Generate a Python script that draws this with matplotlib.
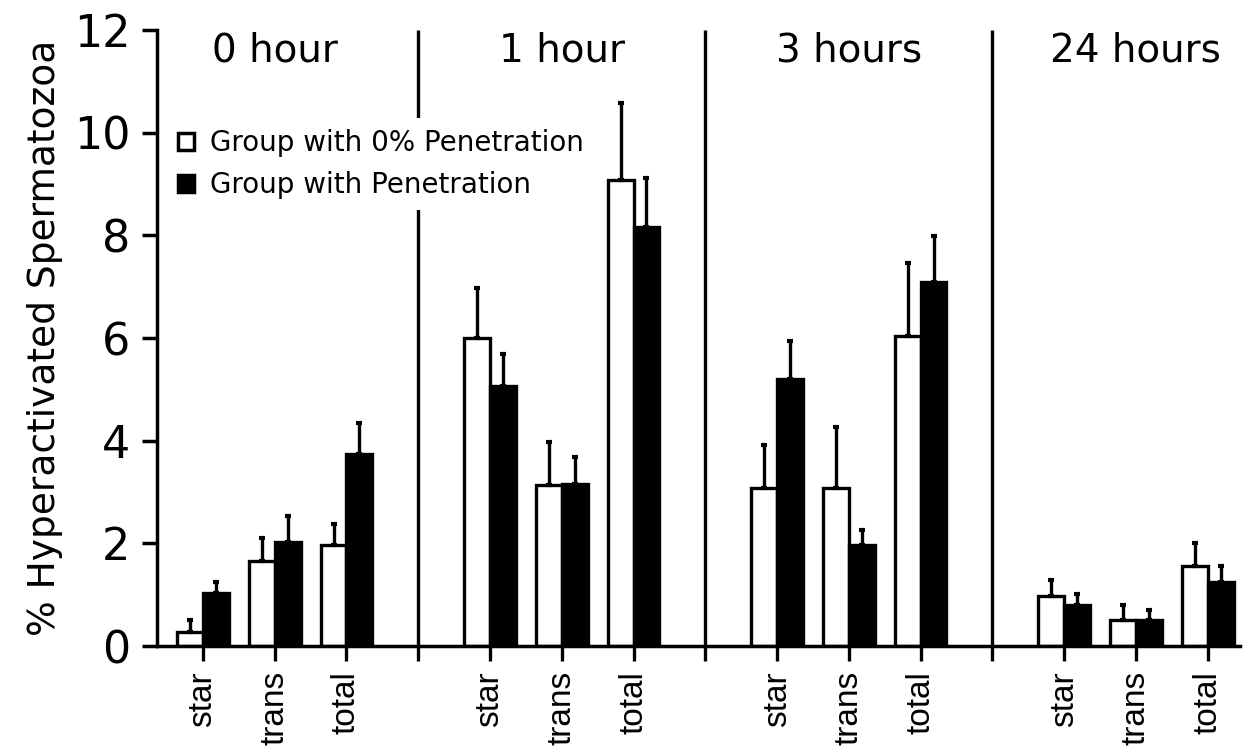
import matplotlib
matplotlib.use("Agg")
import matplotlib.pyplot as plt
from matplotlib.patches import Patch
import numpy as np

plt.rcParams['font.family'] = ['DejaVu Sans']

periods = ["0 hour", "1 hour", "3 hours", "24 hours"]
measures = ["star", "trans", "total"]

# values, order: per period -> star, trans, total
no_pen = [0.28, 1.66, 1.96,
          6.00, 3.13, 9.07,
          3.07, 3.07, 6.04,
          0.97, 0.50, 1.55]
no_pen_err = [0.22, 0.45, 0.41,
              0.97, 0.85, 1.50,
              0.85, 1.19, 1.42,
              0.32, 0.30, 0.45]
pen = [1.04, 2.02, 3.74,
       5.06, 3.16, 8.16,
       5.21, 1.96, 7.09,
       0.80, 0.50, 1.25]
pen_err = [0.21, 0.51, 0.60,
           0.63, 0.52, 0.96,
           0.73, 0.30, 0.89,
           0.22, 0.20, 0.30]

# x positions: each period takes 4 slots (3 measures + separator)
xpos = np.array([4 * g + m + 1 for g in range(len(periods)) for m in range(len(measures))], dtype=float)
seps = [4 * g for g in range(1, len(periods))]
w = 0.36
lw = 2.4

fig = plt.figure(figsize=(12.46, 7.5), dpi=100)
ax = fig.add_axes([157 / 1246, 104 / 750, (1240 - 157) / 1246, 616 / 750])

ax.bar(xpos - w / 2, no_pen, width=w, facecolor='white', edgecolor='black', linewidth=lw, zorder=2)
ax.bar(xpos + w / 2, pen, width=w, facecolor='black', edgecolor='black', linewidth=lw, zorder=2)
ax.errorbar(xpos - w / 2, no_pen, yerr=[np.zeros(len(no_pen)), no_pen_err], fmt='none',
            ecolor='black', elinewidth=lw, capsize=2.5, capthick=3, zorder=3)
ax.errorbar(xpos + w / 2, pen, yerr=[np.zeros(len(pen)), pen_err], fmt='none',
            ecolor='black', elinewidth=lw, capsize=2.5, capthick=3, zorder=3)

ax.vlines(seps, 0, 12, colors='black', linewidth=lw, zorder=1)

for g, name in enumerate(periods):
    ax.text(4 * g + 2, 11.6, name, ha='center', va='center', fontsize=28)

ax.set_xlim(0.36, 15.45)
ax.set_ylim(0, 12)
ax.set_yticks(range(0, 13, 2))
ax.tick_params(axis='y', labelsize=32, length=11, width=2.5, pad=8)

ticks = sorted(list(xpos) + seps)
labels = [measures[int(t) % 4 - 1] if int(t) % 4 else "" for t in ticks]
ax.set_xticks(ticks)
ax.set_xticklabels(labels, rotation=90, fontsize=24, family='Liberation Sans')
ax.tick_params(axis='x', length=11, width=lw, pad=7)

for s in ['top', 'right']:
    ax.spines[s].set_visible(False)
ax.spines['left'].set_linewidth(2.5)
ax.spines['bottom'].set_linewidth(2.5)

ax.set_ylabel("% Hyperactivated Spermatozoa", fontsize=27, labelpad=8)

handles = [Patch(facecolor='white', edgecolor='black', linewidth=2.5),
           Patch(facecolor='black', edgecolor='black', linewidth=2.5)]
ax.legend(handles, ["Group with 0% Penetration", "Group with Penetration"],
          loc='upper left', bbox_to_anchor=(167 / 1246, 1 - 118 / 750),
          bbox_transform=fig.transFigure, borderaxespad=0, fontsize=20,
          handlelength=0.58, handleheight=0.58, handletextpad=0.58,
          labelspacing=0.5, frameon=True, facecolor='white', edgecolor='none',
          framealpha=1, fancybox=False)

fig.savefig("out.png", dpi=100)
